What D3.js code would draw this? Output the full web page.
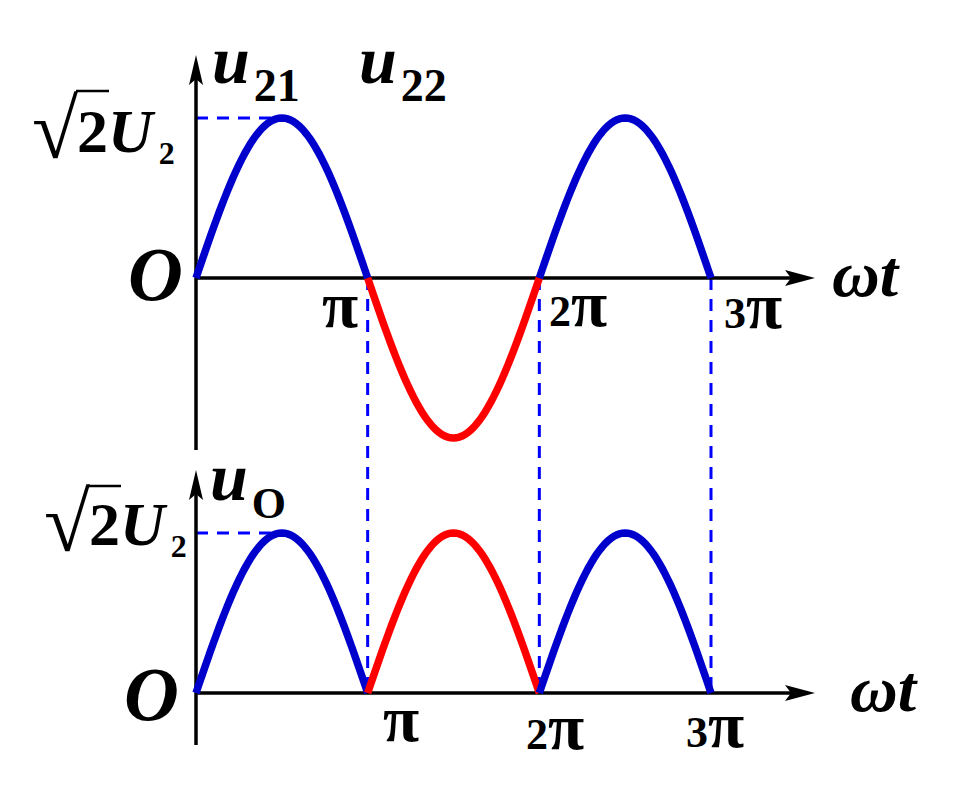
<!DOCTYPE html>
<meta charset="utf-8">
<style>
body { margin: 0; background: #fff; }
text { font-family: "Liberation Serif", "Times New Roman", serif; font-weight: bold; fill: #000; }
.it { font-style: italic; }
</style>
<svg width="961" height="788"></svg>
<script src="https://d3js.org/d3.v7.min.js"></script>
<script>
var PI = Math.PI;

// half cycles of the transformer secondary voltages (in units of pi)
var halfCycles = [0, 1, 2];
var topSign = [1, -1, 1];          // u21 positive, u22 negative half, u21 again
var cycleColor = ["#0000cc", "#ff0000", "#0000cc"];
var xTickVals = [1, 2, 3];
var xTickLabels = ["π", "2π", "3π"];
var amplitude = 1;                 // sqrt(2) U2

var svg = d3.select("svg");

var x = d3.scaleLinear().domain([0, 3 * PI]).range([196, 711]);
var yTop = d3.scaleLinear().domain([-amplitude, amplitude]).range([438, 118]);
var yBot = d3.scaleLinear().domain([0, amplitude]).range([693, 533]);

var axisX0 = x(0), axisEnd = 815;

function arrowRight(g, xe, y) {
  g.append("path")
    .attr("d", "M" + xe + "," + y + "L" + (xe - 30) + "," + (y - 8) + "L" + (xe - 24) + "," + y + "L" + (xe - 30) + "," + (y + 8) + "Z")
    .attr("fill", "#000");
}
function arrowUp(g, xa, ye) {
  g.append("path")
    .attr("d", "M" + xa + "," + ye + "L" + (xa - 7) + "," + (ye + 30) + "L" + xa + "," + (ye + 24) + "L" + (xa + 7) + "," + (ye + 30) + "Z")
    .attr("fill", "#000");
}

// dashed guides
var guides = svg.append("g")
  .attr("stroke", "#0000ff")
  .attr("stroke-width", 3)
  .attr("stroke-dasharray", "12,9")
  .attr("fill", "none");

xTickVals.forEach(function(k) {
  guides.append("line")
    .attr("x1", x(k * PI)).attr("x2", x(k * PI))
    .attr("y1", yTop(0)).attr("y2", yBot(0));
});
guides.append("line")
  .attr("x1", axisX0).attr("x2", x(PI / 2))
  .attr("y1", yTop(amplitude)).attr("y2", yTop(amplitude));
guides.append("line")
  .attr("x1", axisX0).attr("x2", x(PI / 2))
  .attr("y1", yBot(amplitude)).attr("y2", yBot(amplitude));

// axes
var axes = svg.append("g").attr("stroke", "#000").attr("stroke-width", 3.5);
axes.append("line").attr("x1", axisX0).attr("x2", axisEnd - 20).attr("y1", yTop(0)).attr("y2", yTop(0));
axes.append("line").attr("x1", axisX0).attr("x2", axisX0).attr("y1", 450).attr("y2", 75);
axes.append("line").attr("x1", axisX0).attr("x2", axisEnd - 20).attr("y1", yBot(0)).attr("y2", yBot(0));
axes.append("line").attr("x1", axisX0).attr("x2", axisX0).attr("y1", 745).attr("y2", 490);
arrowRight(svg, axisEnd, yTop(0));
arrowRight(svg, axisEnd, yBot(0));
arrowUp(svg, axisX0, 55);
arrowUp(svg, axisX0, 470);

// waveforms
function halfWave(i, sign, yScale) {
  var pts = d3.range(0, 61).map(function(j) {
    var t = (i + j / 60) * PI;
    return [x(t), yScale(sign * Math.abs(Math.sin(t)) * amplitude)];
  });
  return d3.line()(pts);
}

var waves = svg.append("g").attr("fill", "none").attr("stroke-width", 7.5);
halfCycles.forEach(function(i) {
  waves.append("path").attr("d", halfWave(i, topSign[i], yTop)).attr("stroke", cycleColor[i]);
  waves.append("path").attr("d", halfWave(i, 1, yBot)).attr("stroke", cycleColor[i]);
});

// tick labels
var topPos = [[322, 327], [549, 326], [724, 328]];
var botPos = [[383, 741], [526, 749], [686, 747]];
xTickLabels.forEach(function(lab, i) {
  [topPos[i], botPos[i]].forEach(function(p) {
    var t = svg.append("text").attr("x", p[0]).attr("y", p[1]).attr("font-size", 44);
    var num = lab.replace("π", "");
    if (num) t.append("tspan").text(num);
    t.append("tspan").attr("font-size", 66).text("π");
  });
});

// origin labels
svg.append("text").attr("class", "it").attr("x", 128).attr("y", 300).attr("font-size", 76).text("O");
svg.append("text").attr("class", "it").attr("x", 124).attr("y", 720).attr("font-size", 76).text("O");

// omega t
svg.append("text").attr("class", "it").attr("x", 832).attr("y", 296).attr("font-size", 66).text("ωt");
svg.append("text").attr("class", "it").attr("x", 850).attr("y", 711).attr("font-size", 66).text("ωt");

// y axis names
function uLabel(xp, yp, sub, subSize) {
  var t = svg.append("text").attr("x", xp).attr("y", yp);
  t.append("tspan").attr("class", "it").attr("font-size", 68).text("u");
  t.append("tspan").attr("font-size", subSize).attr("dx", 4).attr("dy", 18).text(sub);
}
uLabel(212, 83, "21", 46);
uLabel(359, 83, "22", 46);
uLabel(210, 500, "O", 44);

// sqrt(2) U2 labels
function ampLabel(xp, yBase, vinY) {
  svg.append("text").attr("x", xp - 4).attr("y", yBase + 6).attr("font-size", 84).attr("font-weight", "normal").text("√");
  svg.append("line").attr("x1", xp + 40).attr("x2", xp + 73).attr("y1", vinY).attr("y2", vinY)
    .attr("stroke", "#000").attr("stroke-width", 2.5);
  var t = svg.append("text").attr("x", xp + 41).attr("y", yBase);
  t.append("tspan").attr("font-size", 62).text("2");
  t.append("tspan").attr("class", "it").attr("font-size", 62).text("U");
  t.append("tspan").attr("font-size", 32).attr("dx", 6).attr("dy", 12).text("2");
}
ampLabel(36, 152, 91);
ampLabel(48, 545, 486);
</script>
